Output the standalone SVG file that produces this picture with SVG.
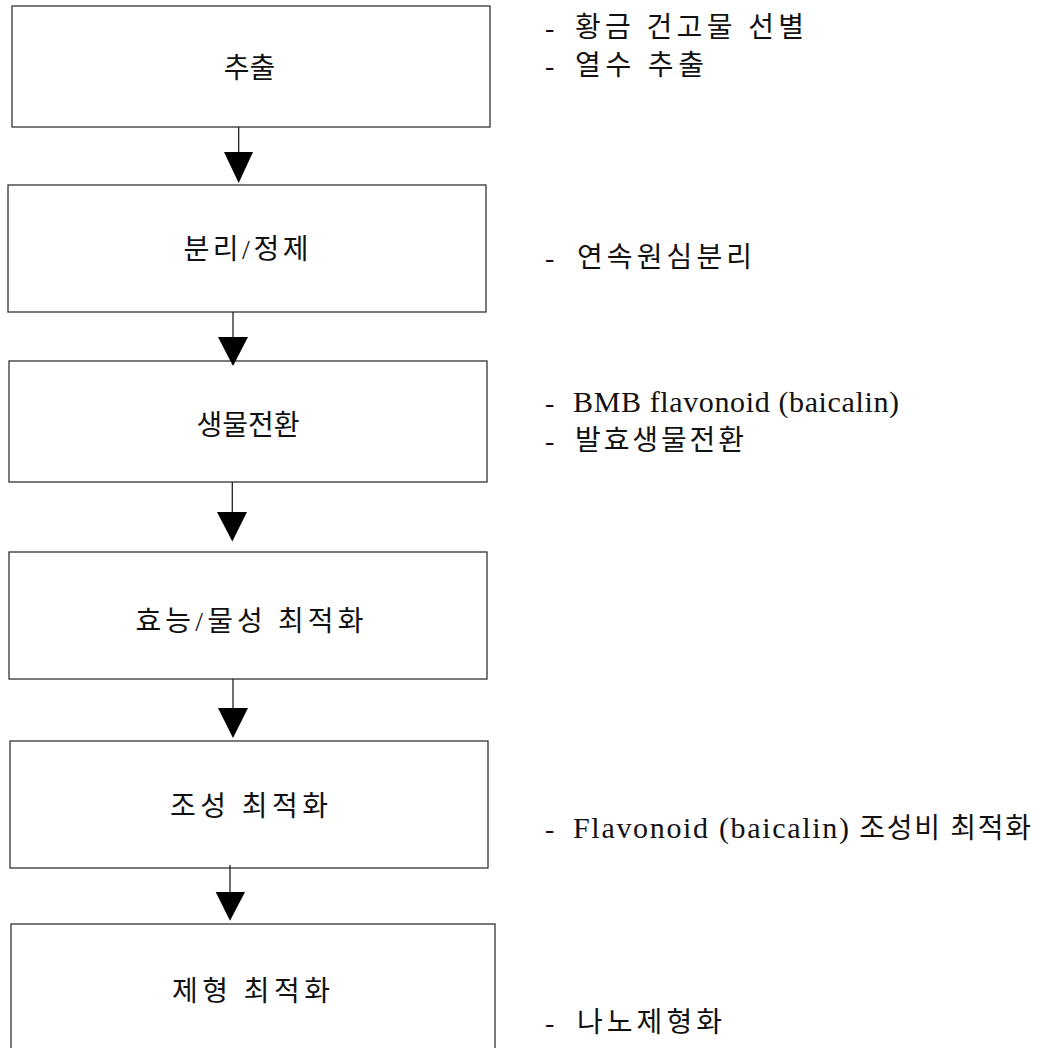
<svg xmlns="http://www.w3.org/2000/svg" width="1051" height="1048" viewBox="0 0 1051 1048">
<style>
.box{fill:#fff;stroke:#333;stroke-width:1.3}
.lbl{font-family:"Liberation Serif","Noto Sans CJK KR",serif;font-size:28px;fill:#111;text-anchor:middle}
.note{font-family:"Liberation Serif","Noto Sans CJK KR",serif;font-size:28px;fill:#111}
.lat{font-size:30px}
.ln{stroke:#222;stroke-width:1.3;fill:none}
.ah{fill:#000}
</style>
<rect width="1051" height="1048" fill="#fff"/>
<g id="node-extract">
<rect class="box" x="12" y="6" width="478" height="121"/>
<text class="lbl" x="249.5" y="78">추출</text>
</g>
<g id="node-separate">
<rect class="box" x="8" y="185" width="478" height="127"/>
<text class="lbl" x="246" y="259" textLength="125" lengthAdjust="spacing">분리/정제</text>
</g>
<g id="node-bioconv">
<rect class="box" x="9" y="361" width="478" height="121"/>
<text class="lbl" x="248" y="435">생물전환</text>
</g>
<g id="node-efficacy">
<rect class="box" x="9" y="552" width="478" height="127"/>
<text class="lbl" x="249.5" y="631" textLength="228" lengthAdjust="spacing">효능/물성 최적화</text>
</g>
<g id="node-composition">
<rect class="box" x="10" y="741" width="478" height="127"/>
<text class="lbl" x="249" y="816" textLength="158" lengthAdjust="spacing">조성 최적화</text>
</g>
<g id="node-formulation">
<rect class="box" x="11" y="924" width="484" height="140"/>
<text class="lbl" x="251" y="1001" textLength="158" lengthAdjust="spacing">제형 최적화</text>
</g>
<g id="notes">
<text class="note" x="545" y="37">- <tspan x="575" textLength="229" lengthAdjust="spacing">황금 건고물 선별</tspan></text>
<text class="note" x="545" y="75">- <tspan x="575" textLength="129" lengthAdjust="spacing">열수 추출</tspan></text>
<text class="note" x="545" y="267">- <tspan x="577" textLength="175" lengthAdjust="spacing">연속원심분리</tspan></text>
<text class="note" x="545" y="412">- <tspan class="lat" x="573" textLength="326" lengthAdjust="spacing">BMB flavonoid (baicalin)</tspan></text>
<text class="note" x="545" y="450">- <tspan x="575" textLength="169" lengthAdjust="spacing">발효생물전환</tspan></text>
<text class="note" x="545" y="838">- <tspan x="573" textLength="458" lengthAdjust="spacing"><tspan class="lat">Flavonoid (baicalin)</tspan> 조성비 최적화</tspan></text>
<text class="note" x="545" y="1032">- <tspan x="577" textLength="145" lengthAdjust="spacing">나노제형화</tspan></text>
</g>
<g id="connectors">
<line class="ln" x1="238.7" y1="127" x2="238.7" y2="153"/>
<polygon class="ah" points="224,152 253,152 238.7,183"/>
<line class="ln" x1="233" y1="312" x2="233" y2="338"/>
<polygon class="ah" points="218,337 248,337 233,366"/>
<line class="ln" x1="232.3" y1="482" x2="232.3" y2="513"/>
<polygon class="ah" points="217,512 247,512 232.3,541.5"/>
<line class="ln" x1="233" y1="679" x2="233" y2="709"/>
<polygon class="ah" points="218,708 248,708 233,738"/>
<line class="ln" x1="230" y1="865" x2="230" y2="893"/>
<polygon class="ah" points="215.7,892 245,892 230,920.7"/>
</g>
</svg>
